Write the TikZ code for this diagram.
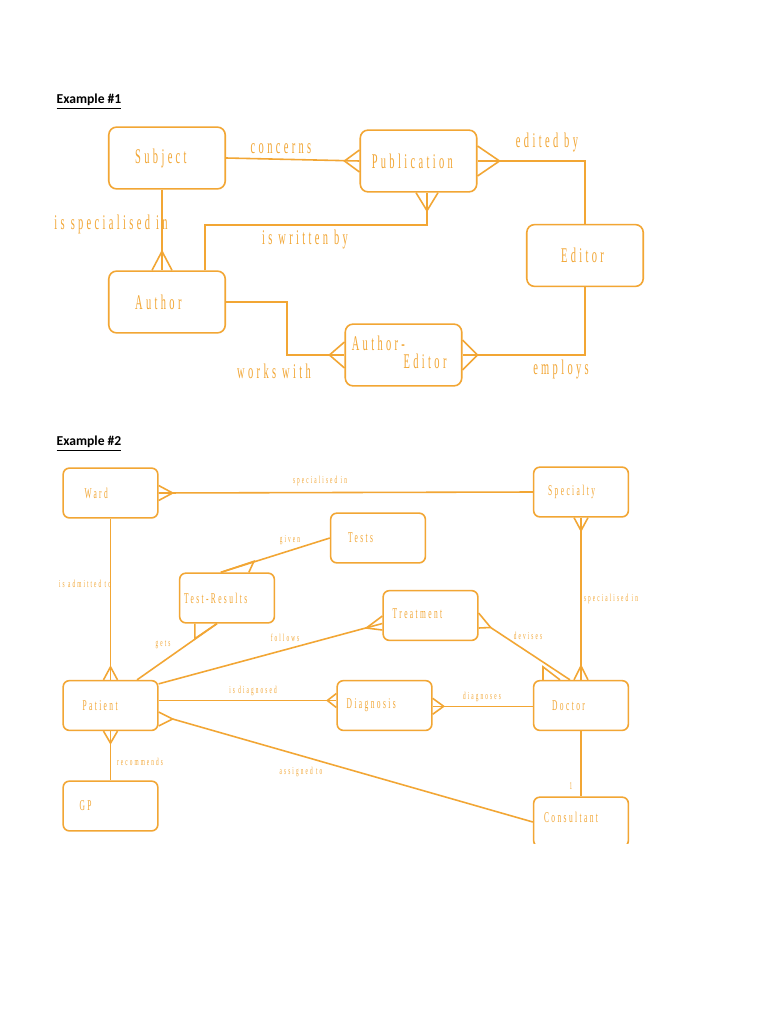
\documentclass[tikz,border=0pt]{standalone}
\usepackage{fontspec}
\usetikzlibrary{positioning,calc}
\newfontfamily\erfont[FakeStretch=0.5,LetterSpace=16]{Liberation Serif}
\newfontfamily\headfont{Carlito}
\definecolor{erorange}{RGB}{242,166,52}

\tikzset{
  ent/.style={draw=erorange, line width=0.9pt, inner sep=0pt},
  bigent/.style={ent, rounded corners=4.5pt, minimum width=66.3pt, minimum height=35.2pt},
  smallent/.style={ent, rounded corners=3.5pt, minimum width=53.9pt, minimum height=28.3pt},
  bigname/.style={text=erorange, inner sep=0pt, align=left, font=\erfont\fontsize{11.9}{10}\selectfont},
  smallname/.style={text=erorange, inner sep=0pt, font=\erfont\fontsize{8.5}{9}\selectfont},
  smalllabel/.style={text=erorange, inner sep=0pt, font=\erfont\addfontfeature{LetterSpace=20}\fontsize{6}{7}\selectfont},
  rel/.style={draw=erorange, line width=0.9pt},
  head/.style={inner sep=0pt, font=\headfont\bfseries\fontsize{7.75}{9}\selectfont}
}

\begin{document}
\begin{tikzpicture}[x=0.02cm, y=-0.02cm]
    \useasboundingbox[fill=white] (0,0) rectangle (768,1024);

    \node[head] (ex1) at (89,102) {\underline{Example \#1}};
    \node[head] (ex2) at (89,444) {\underline{Example \#2}};

    \node[bigent] (subject) at (167,158) {};
    \node[bigent] (publication) at (418.5,161) {};
    \node[bigent] (editor) at (585,255.5) {};
    \node[bigent] (author) at (167,302) {};
    \node[bigent] (autheditor) at (403.5,355) {};

    \node[bigname, right=15.3pt of subject.west] (subjectname) {Subject};
    \node[bigname, right=6.8pt of publication.west] (publicationname) {Publication};
    \node[bigname, right=19.8pt of editor.west] (editorname) {Editor};
    \node[bigname, right=15.3pt of author.west] (authorname) {Author};
    \node[bigname, right=4pt of autheditor.west, yshift=1.5pt] (autheditorname) {Author-\\\hspace*{29.5pt}Editor};

    \coordinate (subjbot) at ($(subject.south)+(-5,0)$);
    \coordinate (authtop) at ($(author.north)+(-5,0)$);
    \coordinate (writes) at ($(author.north)+(38,0)$);
    \coordinate (pubbot) at ($(publication.south)+(8.5,0)$);

    \draw[rel] (subject.east) -- (publication.west);
    \draw[rel] (subjbot) -- (authtop);
    \draw[rel] (writes) -- ++(0,-45) -| (pubbot);
    \draw[rel] (publication.east) -- ++(22,0) -| (editor.north);
    \draw[rel] (editor.south) |- (autheditor.east);
    \draw[rel] (author.east) -- ++(61,0) |- (autheditor.west);

    \node[bigname] (concerns) at (281,149) {concerns};
    \node[bigname] (specin) at (111,224) {is specialised in};
    \node[bigname] (writtenby) at (305,240) {is written by};
    \node[bigname] (editedby) at (547,143) {edited by};
    \node[bigname] (workswith) at (274,371) {works with};
    \node[bigname] (employs) at (561,369) {employs};

    \node[smallent] (ward) at (110.5,493) {};
    \node[smallent] (specialty) at (581,492) {};
    \node[smallent] (tests) at (378,538) {};
    \node[smallent] (testres) at (227,598) {};
    \node[smallent] (treatment) at (430.5,615.5) {};
    \node[smallent] (patient) at (110.5,705.5) {};
    \node[smallent] (gp) at (110.5,806) {};
    \node[smallent] (diagnosis) at (384.5,705.5) {};
    \node[smallent] (doctor) at (581,705.5) {};
    \begin{scope}
        \clip (500,780) rectangle (660,843);
        \node[smallent] (consultant) at (581,822) {};
    \end{scope}

    \node[smallname, right=12.5pt of ward.west] (wardname) {Ward};
    \node[smallname, right=8.5pt of specialty.west] (specialtyname) {Specialty};
    \node[smallname, right=10.2pt of tests.west] (testsname) {Tests};
    \node[smallname, right=2.8pt of testres.west] (testresname) {Test-Results};
    \node[smallname, right=5.7pt of treatment.west, yshift=1pt] (treatmentname) {Treatment};
    \node[smallname, right=11.3pt of patient.west] (patientname) {Patient};
    \node[smallname, right=9.6pt of gp.west] (gpname) {GP};
    \node[smallname, right=5.7pt of diagnosis.west] (diagnosisname) {Diagnosis};
    \node[smallname, right=10.8pt of doctor.west] (doctorname) {Doctor};
    \node[smallname, right=6.2pt of consultant.west, yshift=2.8pt] (consultantname) {Consultant};

    \coordinate (trtop) at ($(testres.north west)+(42,0)$);
    \coordinate (trbot) at ($(testres.south)+(-10,0)$);
    \coordinate (pgets) at ($(patient.north)+(26.5,0)$);
    \coordinate (pfollow) at ($(patient.north east)+(0,4)$);
    \coordinate (trleft) at ($(treatment.west)+(0,8)$);
    \coordinate (pdiag) at ($(patient.east)+(0,-5)$);
    \coordinate (diagup) at ($(diagnosis.west)+(0,-5)$);
    \coordinate (diagright) at ($(diagnosis.east)+(0,0.8)$);
    \coordinate (trtip) at ($(treatment.east)+(12,12)$);
    \coordinate (docleft) at ($(doctor.north)+(-11,0)$);
    \coordinate (passign) at ($(patient.east)+(14,13.5)$);

    \draw[rel] (ward.east) -- (specialty.west);
    \draw[rel] (ward.south) -- (patient.north);
    \draw[rel] (specialty.south) -- (doctor.north);
    \draw[rel] (doctor.south) -- (consultant.north);
    \draw[rel] (tests.west) -- (trtop);
    \draw[rel] (pgets) -- (trbot);
    \draw[rel] (pfollow) -- (trleft);
    \draw[rel] (pdiag) -- (diagup);
    \draw[rel] (diagright) -- (diagright -| doctor.west);
    \draw[rel] ($(treatment.east)+(0,12.5)$) -- (trtip) -- (docleft);
    \draw[rel] (passign) -- (consultant.west);
    \draw[rel] (patient.south) -- (gp.north);

    \foreach \a/\tx/\ty/\px/\py in {publication.west/-15/0/0/11, authtop/0/-19/10/0, pubbot/0/18/11/0,
        publication.east/22/0/0/15, autheditor.east/15/0/0/15, autheditor.west/-15/0/0/13,
        ward.east/14/0/0/7.5, patient.north/0/-13/7/0, specialty.south/0/13/7/0, doctor.north/0/-14/7/0,
        diagup/-9/0/0/7, diagright/11/0/0/8, patient.south/0/12/7/0}
    {
        \draw[rel] ($(\a)+(\px,\py)$) -- ($(\a)+(\tx,\ty)$) -- ($(\a)-(\px,\py)$);
    }

    \draw[rel] (trtop) -- ($(testres.north west)+(75,-11)$) -- ($(testres.north west)+(70,0)$);
    \draw[rel] ($(testres.south west)+(16,0)$) -- ($(testres.south west)+(16,15)$) -- ($(testres.south west)+(38,0)$);
    \draw[rel] ($(treatment.west)+(0,0.5)$) -- ($(treatment.west)+(-16,12.5)$) -- ($(treatment.west)+(0,14.5)$);
    \draw[rel] ($(treatment.east)+(0,-2.5)$) -- (trtip);
    \draw[rel] ($(doctor.north)+(-38,0)$) -- ($(doctor.north)+(-38,-13)$) -- ($(doctor.north)+(-21,0)$);
    \draw[rel] ($(patient.east)+(0,6.5)$) -- (passign) -- ($(patient.east)+(0,20.5)$);

    \node[smalllabel] (wardspec) at (320,481) {specialised in};
    \node[smalllabel] (admitted) at (85,584) {is admitted to};
    \node[smalllabel] (given) at (290,540) {given};
    \node[smalllabel] (gets) at (163,645) {gets};
    \node[smalllabel] (follows) at (285,638) {follows};
    \node[smalllabel] (devises) at (528,636) {devises};
    \node[smalllabel] (docspec) at (611,599) {specialised in};
    \node[smalllabel] (isdiag) at (253,691) {is diagnosed};
    \node[smalllabel] (diagnoses) at (482,697) {diagnoses};
    \node[smalllabel] (recommends) at (140,762) {recommends};
    \node[smalllabel] (assigned) at (301,772) {assigned to};
    \node[smalllabel] (one) at (571,786) {1};
\end{tikzpicture}
\end{document}
